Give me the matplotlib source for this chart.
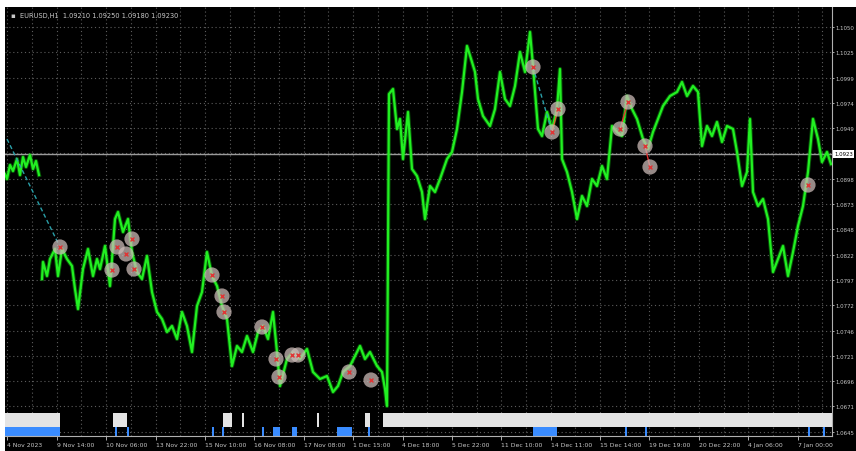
import matplotlib
matplotlib.use('Agg')
import matplotlib.pyplot as plt
import numpy as np
from matplotlib.patches import Rectangle

# hourly close line (bar index, price), nan = gap in the data
bars = [0, 2, 5, 8, 12, 15, 18, 21, 25, 28, 31, 34, 35,
        37, 38, 42, 45, 50, 53, 57, 62, 67, 70, 73, 78, 83, 88, 92, 95,
        100, 105, 110, 113, 118, 123, 127, 132, 137, 142, 147, 152, 157,
        162, 167, 172, 177, 182, 187, 192, 197, 202, 207, 212, 217, 222,
        227, 232, 237, 242, 248, 253, 258, 263, 268, 272, 275, 282, 288,
        295, 302, 308, 315, 322, 328, 333, 338, 345, 352, 355, 360, 365,
        372, 377, 380, 382, 384,
        388, 392, 395, 398, 403, 407, 412, 417, 420, 425, 430, 435, 442,
        447, 452, 457, 462, 467, 470, 473, 478, 485, 490, 495, 500, 505,
        510, 515, 520, 525, 528, 533, 537, 542, 547, 552, 555, 557, 562,
        567, 572, 577, 582, 587, 592, 597, 602, 607, 612, 617, 622, 627,
        632, 638, 643, 648, 653, 658, 665, 672, 677, 682, 688, 693, 697,
        702, 707, 712, 717, 722, 728, 732, 737, 742, 745, 748, 753, 758,
        763, 768, 773, 778, 783, 788, 793, 798, 803, 808, 813, 817, 822, 826]
prices = [1.0903, 1.0898, 1.0912, 1.0906, 1.0918, 1.0902, 1.0920, 1.0910,
          1.0922, 1.0908, 1.0916, 1.0902, np.nan,
          1.0798, 1.0815, 1.0801, 1.0818, 1.0828, 1.0801, 1.0828, 1.0818,
          1.0811, 1.0788, 1.0768, 1.0808, 1.0828, 1.0801, 1.0818, 1.0808,
          1.0831, 1.0791, 1.0858, 1.0865, 1.0845, 1.0858, 1.0825, 1.0805,
          1.0798, 1.0821, 1.0785, 1.0765, 1.0758, 1.0745, 1.0751, 1.0738,
          1.0765, 1.0751, 1.0725, 1.0771, 1.0785, 1.0825, 1.0801, 1.0791,
          1.0771, 1.0758, 1.0711, 1.0731, 1.0725, 1.0741, 1.0725, 1.0745,
          1.0751, 1.0738, 1.0765, 1.0725, 1.0691, 1.0718, 1.0725, 1.0718,
          1.0728, 1.0705, 1.0698, 1.0701, 1.0685, 1.0691, 1.0705, 1.0711,
          1.0725, 1.0731, 1.0718, 1.0725, 1.0711, 1.0705, 1.0688, 1.0671,
          1.0983,
          1.0988, 1.0948, 1.0958, 1.0918, 1.0965, 1.0908, 1.0901, 1.0885,
          1.0858, 1.0891, 1.0885, 1.0898, 1.0918, 1.0925, 1.0948, 1.0985,
          1.1031, 1.1015, 1.1005, 1.0978, 1.0961, 1.0951, 1.0968, 1.1005,
          1.0978, 1.0971, 1.0991, 1.1025, 1.1005, 1.1045, 1.1011, 1.0948,
          1.0941, 1.0965, 1.0948, 1.0968, 1.1008, 1.0918, 1.0905, 1.0885,
          1.0858, 1.0881, 1.0871, 1.0898, 1.0891, 1.0911, 1.0898, 1.0951,
          1.0945, 1.0941, 1.0981, 1.0968, 1.0958, 1.0938, 1.0928, 1.0945,
          1.0958, 1.0971, 1.0981, 1.0985, 1.0995, 1.0981, 1.0991, 1.0985,
          1.0931, 1.0951, 1.0941, 1.0955, 1.0935, 1.0951, 1.0948, 1.0925,
          1.0891, 1.0905, 1.0958, 1.0885, 1.0871, 1.0878, 1.0858, 1.0805,
          1.0818, 1.0831, 1.0801, 1.0825, 1.0851, 1.0871, 1.0905, 1.0958,
          1.0938, 1.0915, 1.0925, 1.0913]

# trade marks on the chart
trade_bars = [55, 107, 112, 121, 127, 129, 207, 217, 219, 257, 271, 274,
              287, 293, 344, 366, 528, 553, 547, 623, 615, 640, 645, 803]
trade_prices = [1.0830, 1.0807, 1.0830, 1.0823, 1.0838, 1.0808, 1.0802,
                1.0781, 1.0765, 1.0750, 1.0718, 1.0700, 1.0722, 1.0722,
                1.0705, 1.0697, 1.1010, 1.0968, 1.0945, 1.0975, 1.0948,
                1.0931, 1.0910, 1.0892]

# lines joining open and close of a trade
link_bar0 = [2, 528, 553, 623, 640]
link_price0 = [1.0938, 1.1010, 1.0968, 1.0975, 1.0931]
link_bar1 = [55, 547, 547, 615, 645]
link_price1 = [1.0830, 1.0945, 1.0945, 1.0948, 1.0910]
link_colors = ['#2a9fa8', '#2a9fa8', '#e0602a', '#e03030', '#e03030']

# signal strip at the bottom (start bar, end bar)
white_start = [0, 108, 218, 237, 312, 360, 378]
white_end = [55, 122, 227, 238.5, 313.5, 365, 827]
blue_start = [0, 110, 122, 207, 217, 257, 268, 287, 332, 363, 528, 620, 640, 803, 818]
blue_end = [55, 111.5, 123.5, 208.5, 218.5, 258.5, 275, 292, 347, 364.5, 552, 621.5, 641.5, 804.5, 819.5]

y_ticks = [1.1050, 1.1025, 1.0999, 1.0974, 1.0949, 1.0924, 1.0898,
           1.0873, 1.0848, 1.0822, 1.0797, 1.0772, 1.0746, 1.0721,
           1.0696, 1.0671, 1.0645]
bid_price = 1.0923
x_labels = ['4 Nov 2023', '9 Nov 14:00', '10 Nov 06:00', '13 Nov 22:00',
            '15 Nov 10:00', '16 Nov 08:00', '17 Nov 08:00', '1 Dec 15:00',
            '4 Dec 18:00', '5 Dec 22:00', '11 Dec 10:00', '14 Dec 11:00',
            '15 Dec 14:00', '19 Dec 19:00', '20 Dec 22:00', '4 Jan 06:00',
            '7 Jan 00:00']
title = 'EURUSD,H1  1.09210 1.09250 1.09180 1.09230'

txt = '#c8c8c8'
grid_c = '#5c5c5c'

fig = plt.figure(figsize=(8.56, 4.52), dpi=100, facecolor='white')
# black terminal background, thin white strip top and left
fig.patches.append(Rectangle((5 / 856, 0), 1, 444 / 452, transform=fig.transFigure,
                             facecolor='black', edgecolor='none', zorder=-10))
ax = fig.add_axes([5 / 856, 15 / 452, 827 / 856, 429 / 452])
ax.set_zorder(5)
ax.set_facecolor('black')
ax.set_xlim(0, 827)
ax.set_ylim(1.0641, 1.1070)

# dotted grid
grid_x = 2.3 + 24.7 * np.arange(34)
for gx in grid_x:
    ax.axvline(gx, color=grid_c, lw=0.8, ls=(0, (1, 2.5)), zorder=1)
for gy in y_ticks:
    ax.axhline(gy, color=grid_c, lw=0.8, ls=(0, (1, 2.5)), zorder=1)

# bid line
ax.axhline(bid_price, color='#9a9a9a', lw=1.0, zorder=1.5)

# signal strip
tr = ax.get_xaxis_transform()
for s, e in zip(white_start, white_end):
    ax.add_patch(Rectangle((s, 0.021), e - s, 0.032, transform=tr,
                           facecolor='#e4e4e4', edgecolor='none', zorder=2))
for s, e in zip(blue_start, blue_end):
    ax.add_patch(Rectangle((s, 0.0), e - s, 0.021, transform=tr,
                           facecolor='#3a8cff', edgecolor='none', zorder=2))

# price
ax.plot(bars, prices, color='#10c010', lw=3.0, alpha=0.45, zorder=3)
ax.plot(bars, prices, color='#22f022', lw=1.6, zorder=3)

# trades
for b0, p0, b1, p1, c in zip(link_bar0, link_price0, link_bar1, link_price1, link_colors):
    ls = (0, (3, 2)) if c == '#2a9fa8' else '-'
    ax.plot([b0, b1], [p0, p1], color=c, lw=1.0, ls=ls, zorder=4)
ax.scatter(trade_bars, trade_prices, s=120, color='#c9b9b5', alpha=0.75,
           edgecolors='none', zorder=5)
ax.scatter(trade_bars, trade_prices, s=8, marker='x', color='#e03535',
           linewidths=1.0, zorder=6)

# axes look
for side in ['top', 'left']:
    ax.spines[side].set_visible(False)
for side in ['right', 'bottom']:
    ax.spines[side].set_color('#b0b0b0')
    ax.spines[side].set_linewidth(0.8)

ax.yaxis.tick_right()
ax.set_yticks(y_ticks)
ax.set_yticklabels(['' if abs(v - bid_price) < 0.0002 else f'{v:.4f}' for v in y_ticks])
ax.tick_params(axis='y', colors=txt, labelsize=3.9, length=1.5, pad=1.0, width=0.6)

label_pos = 2.3 + 49.4 * np.arange(len(x_labels))
ax.set_xticks(label_pos)
ax.set_xticklabels(x_labels, ha='left')
ax.tick_params(axis='x', colors=txt, labelsize=4.4, length=3, pad=1.5, width=0.6)

# current price box
ax.text(1.003, bid_price, f'{bid_price:.4f}', transform=ax.get_yaxis_transform(),
        fontsize=3.9, color='black', va='center', ha='left',
        bbox=dict(boxstyle='square,pad=0.2', facecolor='white', edgecolor='none'))

# header
fig.text(10 / 856, 1 - 16 / 452, '\u25aa', color=txt, fontsize=5, va='center', zorder=10)
fig.text(20 / 856, 1 - 16 / 452, title, color=txt, fontsize=4.8, va='center', zorder=10)

fig.savefig('out.png', dpi=100, facecolor=fig.get_facecolor())
